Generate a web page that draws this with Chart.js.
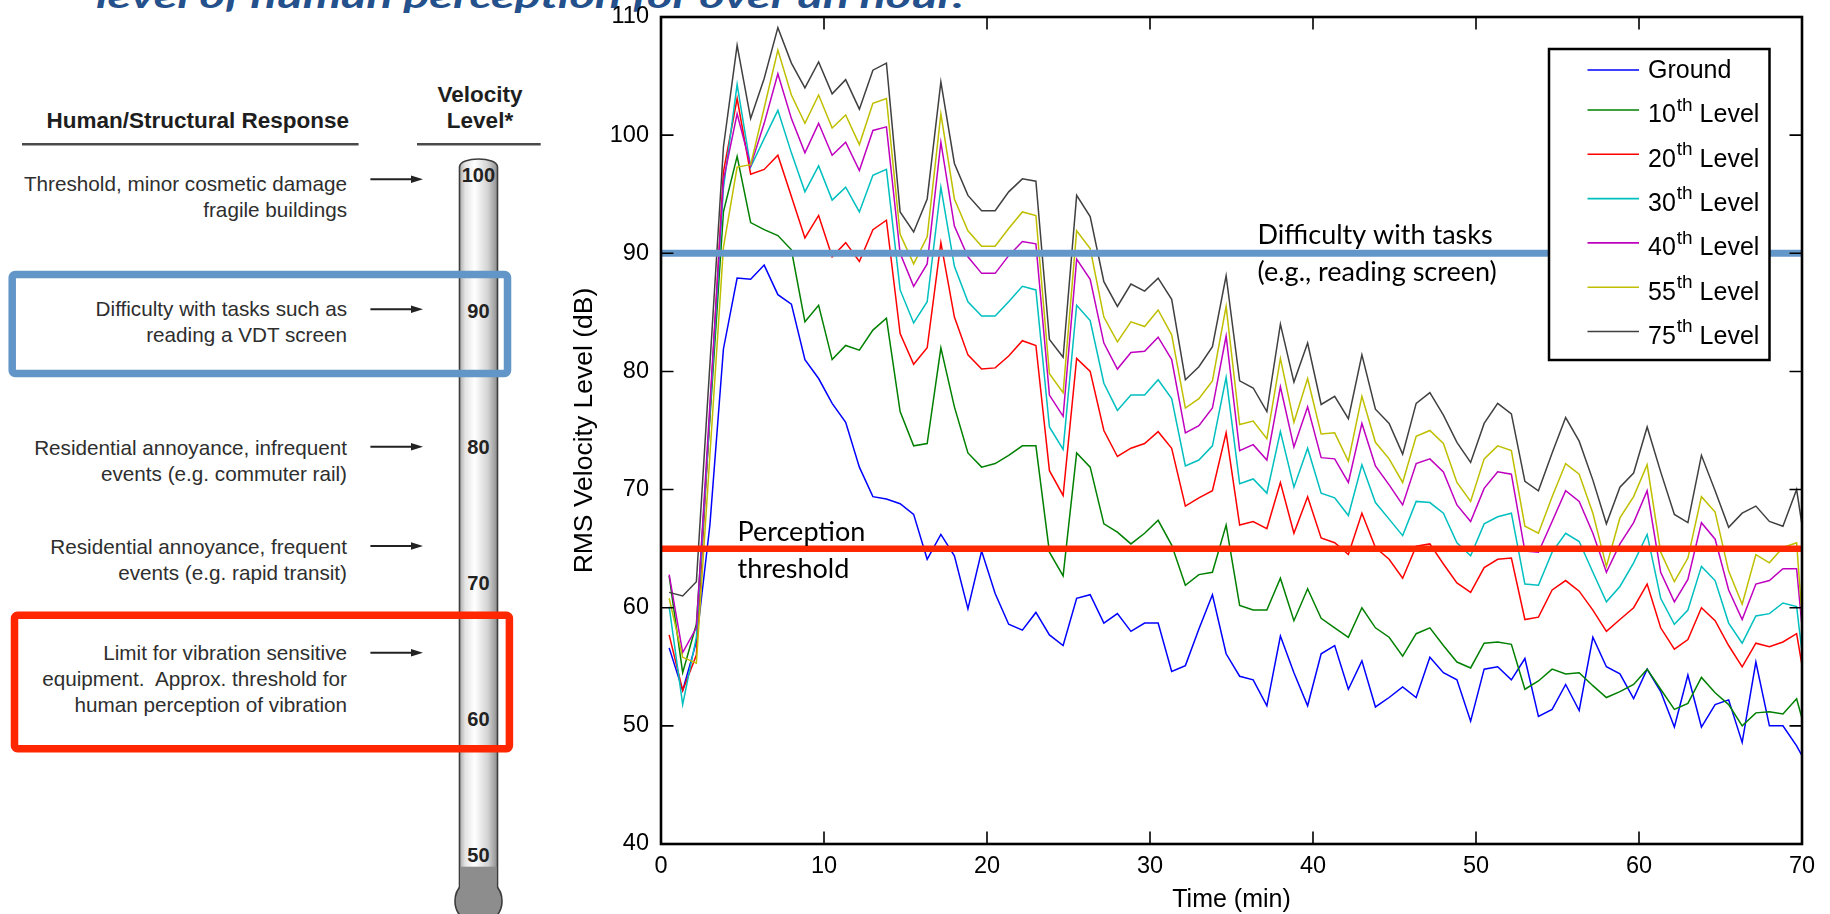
<!DOCTYPE html>
<html>
<head>
<meta charset="utf-8">
<script src="https://cdn.jsdelivr.net/npm/chart.js@4.4.1/dist/chart.umd.min.js"></script>
<style>
  html, body { margin: 0; padding: 0; background: #fff; }
  #wrap { position: relative; width: 1830px; height: 914px; overflow: hidden; background: #fff; }
  #painel, #grafico { position: absolute; left: 0; top: 0; }
</style>
</head>
<body>
<div id="wrap">
  <svg id="painel" width="1830" height="914" xmlns="http://www.w3.org/2000/svg">
    <defs>
      <linearGradient id="tubo" x1="0" x2="1" y1="0" y2="0">
        <stop offset="0" stop-color="#a9a9a9"/>
        <stop offset="0.15" stop-color="#e4e4e4"/>
        <stop offset="0.4" stop-color="#ffffff"/>
        <stop offset="0.75" stop-color="#d2d2d2"/>
        <stop offset="1" stop-color="#8e8e8e"/>
      </linearGradient>
    </defs>
  </svg>
  <canvas id="grafico" width="1830" height="914"></canvas>
</div>
<script>
// tempo (min) de cada medicao
const tempos = [0.5, 1.33, 2.17, 3, 3.83, 4.67, 5.5, 6.33, 7.17, 8,
  8.83, 9.67, 10.5, 11.33, 12.17, 13, 13.83, 14.67, 15.5, 16.33,
  17.17, 18, 18.83, 19.67, 20.5, 21.33, 22.17, 23, 23.83, 24.67,
  25.5, 26.33, 27.17, 28, 28.83, 29.67, 30.5, 31.33, 32.17, 33,
  33.83, 34.67, 35.5, 36.33, 37.17, 38, 38.83, 39.67, 40.5, 41.33,
  42.17, 43, 43.83, 44.67, 45.5, 46.33, 47.17, 48, 48.83, 49.67,
  50.5, 51.33, 52.17, 53, 53.83, 54.67, 55.5, 56.33, 57.17, 58,
  58.83, 59.67, 60.5, 61.33, 62.17, 63, 63.83, 64.67, 65.5, 66.33,
  67.17, 68, 68.83, 69.67, 70.5];

const ground = [56.6, 53.0, 57.1, 67.0, 81.9, 87.9, 87.8, 89.0, 86.5, 85.7,
  81.0, 79.4, 77.3, 75.7, 71.9, 69.4, 69.2, 68.8, 67.9, 64.1,
  66.2, 64.4, 59.9, 64.8, 61.2, 58.6, 58.1, 59.6, 57.7, 56.8,
  60.8, 61.1, 58.7, 59.5, 58.0, 58.7, 58.7, 54.6, 55.1, 58.2,
  61.1, 56.1, 54.2, 53.9, 51.7, 57.6, 54.5, 51.7, 56.1, 56.8,
  53.1, 55.5, 51.6, 52.4, 53.3, 52.4, 55.8, 54.5, 53.9, 50.4,
  54.8, 55.0, 53.9, 55.7, 50.8, 51.4, 53.5, 51.3, 57.5, 55.0,
  54.4, 52.3, 54.8, 52.9, 49.9, 54.3, 49.9, 51.8, 52.2, 48.6,
  55.4, 50.0, 50.0, 48.3, 46.2];

const nivel10 = [62.7, 54.5, 58.6, 76.0, 93.5, 98.2, 92.6, 92.0, 91.5, 90.3,
  84.2, 85.6, 81.0, 82.2, 81.8, 83.5, 84.5, 76.6, 73.7, 73.9,
  82.0, 77.0, 73.1, 71.9, 72.2, 72.9, 73.7, 73.7, 64.7, 62.7,
  73.1, 71.9, 67.1, 66.4, 65.4, 66.3, 67.4, 65.3, 61.9, 62.8,
  63.0, 67.0, 60.2, 59.8, 59.8, 62.5, 58.9, 61.6, 59.1, 58.3,
  57.5, 60.0, 58.3, 57.5, 55.9, 57.8, 58.3, 56.8, 55.4, 54.9,
  57.0, 57.1, 56.9, 53.1, 53.8, 54.8, 54.4, 54.5, 53.4, 52.4,
  52.9, 53.5, 54.8, 53.1, 51.4, 51.9, 54.1, 52.8, 51.8, 50.0,
  51.1, 51.2, 51.0, 52.3, 48.1];

const nivel20 = [57.7, 53.0, 56.0, 76.5, 96.9, 103.1, 96.7, 97.1, 98.3, 94.8,
  91.3, 93.2, 89.7, 90.9, 89.3, 92.0, 92.8, 83.2, 80.6, 82.0,
  90.9, 84.6, 81.4, 80.2, 80.3, 81.3, 82.6, 82.2, 71.6, 69.5,
  81.1, 80.0, 75.0, 72.8, 73.5, 73.9, 74.9, 73.5, 68.6, 69.3,
  69.9, 74.8, 67.0, 67.3, 66.7, 70.6, 66.3, 69.4, 65.9, 65.5,
  64.5, 68.0, 65.1, 64.1, 62.5, 65.2, 65.4, 63.7, 62.1, 61.3,
  63.4, 64.1, 64.2, 59.0, 59.2, 61.5, 62.3, 61.4, 59.8, 58.0,
  59.0, 60.0, 62.0, 58.3, 56.5, 57.3, 60.0, 58.9, 56.8, 55.0,
  57.0, 56.7, 57.1, 57.8, 51.1];

const nivel30 = [60.1, 51.8, 57.5, 76.5, 95.5, 104.3, 97.3, 99.7, 102.1, 98.5,
  95.2, 97.4, 94.5, 95.6, 93.5, 96.6, 97.1, 86.9, 84.1, 85.9,
  95.6, 88.9, 85.9, 84.7, 84.7, 85.9, 87.2, 86.9, 75.3, 73.4,
  85.6, 84.3, 79.0, 76.7, 78.0, 78.0, 79.3, 77.7, 72.0, 72.5,
  73.7, 79.5, 70.5, 70.9, 69.7, 74.9, 70.2, 73.5, 69.7, 69.3,
  67.8, 72.1, 68.9, 67.5, 66.1, 69.0, 68.9, 68.0, 65.5, 64.4,
  67.1, 67.7, 68.0, 62.0, 61.9, 64.7, 66.3, 65.6, 63.0, 60.5,
  61.8, 63.8, 66.2, 60.8, 58.6, 59.8, 63.5, 62.3, 58.7, 57.0,
  59.3, 59.5, 60.4, 60.1, 50.4];

const nivel40 = [62.8, 56.2, 58.3, 77.2, 96.2, 101.8, 97.4, 101.0, 105.2, 101.4,
  98.5, 101.0, 98.3, 99.4, 97.0, 100.4, 100.7, 90.0, 87.2, 89.1,
  99.4, 92.3, 89.7, 88.3, 88.3, 89.8, 91.0, 90.8, 78.0, 76.2,
  89.5, 87.8, 82.4, 80.2, 81.6, 81.7, 82.9, 81.0, 74.8, 75.4,
  76.9, 83.0, 73.3, 73.8, 72.5, 78.7, 73.6, 77.0, 72.7, 72.6,
  70.6, 75.6, 72.0, 70.4, 68.7, 72.2, 72.6, 71.5, 68.7, 67.3,
  70.1, 71.5, 71.3, 64.8, 64.7, 67.3, 69.9, 69.0, 66.3, 63.0,
  65.4, 67.2, 69.9, 63.0, 60.5, 62.4, 67.2, 65.8, 61.5, 59.0,
  62.0, 62.3, 63.3, 63.3, 51.0];

const nivel55 = [60.8, 55.8, 55.3, 72.9, 90.5, 97.3, 97.5, 102.3, 107.2, 103.4,
  101.0, 103.4, 100.6, 101.7, 99.2, 102.7, 103.1, 91.6, 89.1, 91.4,
  101.8, 94.6, 91.9, 90.6, 90.6, 92.1, 93.5, 93.2, 79.8, 78.2,
  91.9, 90.4, 84.6, 82.5, 84.2, 83.8, 85.2, 83.1, 76.9, 77.7,
  79.2, 85.5, 75.5, 75.8, 74.3, 81.1, 75.7, 79.4, 74.7, 74.8,
  72.4, 77.9, 74.0, 72.6, 70.6, 74.5, 75.0, 73.9, 70.6, 69.0,
  72.6, 73.7, 73.3, 66.9, 66.3, 69.4, 72.2, 71.3, 68.0, 63.5,
  67.6, 69.4, 72.1, 64.7, 62.2, 64.2, 69.4, 68.1, 63.1, 60.3,
  64.5, 63.8, 65.1, 65.5, 49.8];

const nivel75 = [61.3, 61.0, 62.2, 80.6, 99.0, 107.6, 101.4, 104.8, 109.1, 106.1,
  104.0, 106.2, 103.5, 104.7, 102.2, 105.5, 106.1, 93.5, 91.8, 94.6,
  104.5, 97.6, 94.9, 93.6, 93.6, 95.2, 96.3, 96.1, 82.7, 81.2,
  94.9, 93.1, 87.6, 85.5, 87.4, 86.8, 87.9, 86.1, 79.3, 80.4,
  82.1, 88.1, 79.2, 78.6, 76.6, 84.0, 79.1, 82.4, 77.2, 77.9,
  76.0, 81.4, 76.8, 75.6, 73.0, 77.3, 78.2, 76.3, 74.0, 72.3,
  75.6, 77.3, 76.4, 70.7, 69.9, 73.1, 76.1, 74.1, 70.8, 67.1,
  70.2, 71.4, 75.3, 71.5, 67.9, 67.2, 72.9, 69.9, 66.8, 68.0,
  68.6, 67.3, 66.9, 70.0, 62.5];

const series = [ground, nivel10, nivel20, nivel30, nivel40, nivel55, nivel75];
const rotulos = ['Ground', '10th Level', '20th Level', '30th Level', '40th Level', '55th Level', '75th Level'];
const cores = ['#0000ff', '#008000', '#ff0000', '#00bfbf', '#bf00bf', '#bfbf00', '#404040'];

// limites marcados no grafico (dB)
const limiteTarefas = 90;
const limitePercepcao = 65;

// painel da esquerda
const tituloTopo = 'level of human perception for over an hour.';
const niveisEscala = [100, 90, 80, 70, 60, 50];
const respostas = [
  ['Threshold, minor cosmetic damage', 'fragile buildings'],
  ['Difficulty with tasks such as', 'reading a VDT screen'],
  ['Residential annoyance, infrequent', 'events (e.g. commuter rail)'],
  ['Residential annoyance, frequent', 'events (e.g. rapid transit)'],
  ['Limit for vibration sensitive', 'equipment.  Approx. threshold for', 'human perception of vibration']
];

const fonteEsq = "'Liberation Sans', Arial, Helvetica, sans-serif";
const painel = document.getElementById('painel');
const NS = 'http://www.w3.org/2000/svg';

function novo(tag, attrs, texto) {
  const e = document.createElementNS(NS, tag);
  for (const k in attrs) e.setAttribute(k, attrs[k]);
  if (texto !== undefined) e.textContent = texto;
  painel.appendChild(e);
  return e;
}

function desenharPainel() {
  novo('text', { x: 96, y: 7.5, 'font-family': 'Lato, sans-serif', 'font-size': 32, 'font-weight': 'bold',
    'font-style': 'italic', fill: '#24508c', textLength: 868, lengthAdjust: 'spacingAndGlyphs' }, tituloTopo);

  const cab = { 'font-family': fonteEsq, 'font-size': 22.5, 'font-weight': 'bold', fill: '#1e1e1e' };
  novo('text', Object.assign({ x: 349, y: 128.3, 'text-anchor': 'end' }, cab), 'Human/Structural Response');
  novo('text', Object.assign({ x: 480, y: 102, 'text-anchor': 'middle' }, cab), 'Velocity');
  novo('text', Object.assign({ x: 480, y: 128.3, 'text-anchor': 'middle' }, cab), 'Level*');
  novo('line', { x1: 22, x2: 358.6, y1: 144.3, y2: 144.3, stroke: '#4a4a4a', 'stroke-width': 2.6 });
  novo('line', { x1: 417, x2: 540.7, y1: 144.3, y2: 144.3, stroke: '#4a4a4a', 'stroke-width': 2.6 });

  // termometro
  novo('circle', { cx: 478.5, cy: 901, r: 23.5, fill: '#8d8d8d', stroke: '#3c3c3c', 'stroke-width': 1.6 });
  novo('path', { d: 'M459.5,887.2 L459.5,167 C459.5,156.3 497.5,156.3 497.5,167 L497.5,887.2',
    fill: 'url(#tubo)', stroke: '#3c3c3c', 'stroke-width': 1.6 });
  novo('rect', { x: 460.4, y: 866.7, width: 36.2, height: 24, fill: '#8d8d8d' });

  niveisEscala.forEach(v => {
    novo('text', { x: 478.4, y: 175 + (100 - v) * 13.6 + 7.2, 'text-anchor': 'middle', 'font-family': fonteEsq,
      'font-size': 20, 'font-weight': 'bold', fill: '#222' }, String(v));
  });

  const posicoes = [[179.3, 190.7], [309.3, 316.4], [446.7, 454.7], [546, 553.7], [652.7, 660.4]];
  respostas.forEach((linhas, i) => {
    const [ya, yb] = posicoes[i];
    linhas.forEach((txt, j) => {
      novo('text', { x: 347, y: yb + j * 25.8, 'text-anchor': 'end', 'font-family': fonteEsq,
        'font-size': 20.7, fill: '#2e2e2e', style: 'white-space:pre' }, txt);
    });
    novo('line', { x1: 370.4, x2: 414, y1: ya, y2: ya, stroke: '#222', 'stroke-width': 2 });
    novo('polygon', { points: `423,${ya} 411,${ya - 3.8} 411,${ya + 3.8}`, fill: '#222' });
  });

  novo('rect', { x: 12.2, y: 274.5, width: 495.3, height: 99, rx: 3, fill: 'none', stroke: '#6296c8', 'stroke-width': 7.5 });
  novo('rect', { x: 14.5, y: 615.3, width: 494.9, height: 133.5, rx: 3, fill: 'none', stroke: '#ff2600', 'stroke-width': 7.5 });
}

desenharPainel();

// ---------- grafico ----------
const fonte = "'Liberation Sans', Arial, Helvetica, sans-serif";

const molduraPlugin = {
  id: 'moldura',
  afterDatasetsDraw(chart) {
    const { ctx, chartArea: a, scales: { x, y } } = chart;
    ctx.save();
    ctx.strokeStyle = '#000';
    ctx.lineWidth = 1.6;
    const tl = 12.5;
    ctx.beginPath();
    x.ticks.forEach(t => {
      const px = x.getPixelForValue(t.value);
      ctx.moveTo(px, a.bottom); ctx.lineTo(px, a.bottom - tl);
      ctx.moveTo(px, a.top); ctx.lineTo(px, a.top + tl);
    });
    y.ticks.forEach(t => {
      const py = y.getPixelForValue(t.value);
      ctx.moveTo(a.left, py); ctx.lineTo(a.left + tl, py);
      ctx.moveTo(a.right, py); ctx.lineTo(a.right - tl, py);
    });
    ctx.stroke();
    ctx.lineWidth = 2.6;
    ctx.strokeRect(a.left, a.top, a.right - a.left, a.bottom - a.top);

    // textos das linhas de limite
    ctx.fillStyle = '#000';
    ctx.font = '27px Lato, sans-serif';
    ctx.textBaseline = 'alphabetic';
    ctx.textAlign = 'left';
    const xt = x.getPixelForValue(36.6), y90 = y.getPixelForValue(limiteTarefas);
    ctx.fillText('Difficulty with tasks', xt, y90 - 9);
    ctx.fillText('(e.g., reading screen)', xt, y90 + 27.7);
    const xp = x.getPixelForValue(4.69), y65 = y.getPixelForValue(limitePercepcao);
    ctx.fillText('Perception', xp, y65 - 7.5);
    ctx.fillText('threshold', xp, y65 + 29.8);
    ctx.restore();
  },
  afterDraw(chart) {
    const { ctx, chartArea: a } = chart;
    const bx = a.right - 253, by = a.top + 32, bw = 220.5, bh = 311;
    ctx.save();
    ctx.fillStyle = '#fff';
    ctx.fillRect(bx, by, bw, bh);
    ctx.strokeStyle = '#000';
    ctx.lineWidth = 2.5;
    ctx.strokeRect(bx, by, bw, bh);
    ctx.textBaseline = 'middle';
    ctx.textAlign = 'left';
    rotulos.forEach((lbl, i) => {
      const ly = i === 0 ? by + 21 : by + 61 + (i - 1) * 44.3;
      ctx.strokeStyle = cores[i];
      ctx.lineWidth = 1.6;
      ctx.beginPath();
      ctx.moveTo(bx + 38.5, ly); ctx.lineTo(bx + 90, ly);
      ctx.stroke();
      ctx.fillStyle = '#000';
      const tx = bx + 99;
      const m = lbl.match(/^(\d+)(th)( .*)$/);
      if (m) {
        ctx.font = '25px ' + fonte;
        ctx.fillText(m[1], tx, ly + 5.5);
        const w1 = ctx.measureText(m[1]).width;
        ctx.font = '19px ' + fonte;
        ctx.fillText(m[2], tx + w1 + 1, ly - 4.5);
        const w2 = ctx.measureText(m[2]).width;
        ctx.font = '25px ' + fonte;
        ctx.fillText(m[3], tx + w1 + 1 + w2, ly + 5.5);
      } else {
        ctx.font = '25px ' + fonte;
        ctx.fillText(lbl, tx, ly + 0.8);
      }
    });
    ctx.restore();
  }
};

const datasets = series.map((s, i) => ({
  label: rotulos[i],
  data: tempos.map((t, k) => ({ x: t, y: s[k] })),
  borderColor: cores[i],
  borderWidth: 1.5,
  pointRadius: 0,
  fill: false,
  order: 7 - i
}));

datasets.push({
  label: 'tarefas',
  data: [{ x: 0, y: limiteTarefas }, { x: 70, y: limiteTarefas }],
  borderColor: '#6497c9',
  borderWidth: 7,
  pointRadius: 0,
  order: 0
});
datasets.push({
  label: 'percepcao',
  data: [{ x: 0, y: limitePercepcao }, { x: 70, y: limitePercepcao }],
  borderColor: '#ff2800',
  borderWidth: 6.5,
  pointRadius: 0,
  order: 0
});

const ctx = document.getElementById('grafico').getContext('2d');

window.graficoVibracao = new Chart(ctx, {
  type: 'line',
  data: { datasets: datasets },
  options: {
    responsive: false,
    animation: false,
    events: [],
    layout: { padding: { left: 561, right: 28, top: 17, bottom: 0 } },
    plugins: { legend: { display: false }, tooltip: { enabled: false } },
    elements: { line: { tension: 0 } },
    scales: {
      x: {
        type: 'linear', min: 0, max: 70,
        ticks: { stepSize: 10, padding: 8, color: '#000', font: { family: fonte, size: 23.5 } },
        grid: { display: false, drawTicks: false },
        border: { display: false },
        title: { display: true, text: 'Time (min)', color: '#000',
          font: { family: fonte, size: 25, lineHeight: 1 }, padding: { top: 0, bottom: 1.5 } },
        afterFit(s) { s.height = 70; }
      },
      y: {
        min: 40, max: 110,
        ticks: { stepSize: 10, padding: 12, color: '#000', font: { family: fonte, size: 23.5 } },
        grid: { display: false, drawTicks: false },
        border: { display: false },
        title: { display: true, text: 'RMS Velocity Level (dB)', color: '#000',
          font: { family: fonte, size: 26.5, lineHeight: 1 }, padding: { top: 10.75, bottom: 0 } },
        afterFit(s) { s.width = 100; s.paddingTop = 0; s.paddingBottom = 0; }
      }
    }
  },
  plugins: [molduraPlugin]
});
</script>
</body>
</html>
